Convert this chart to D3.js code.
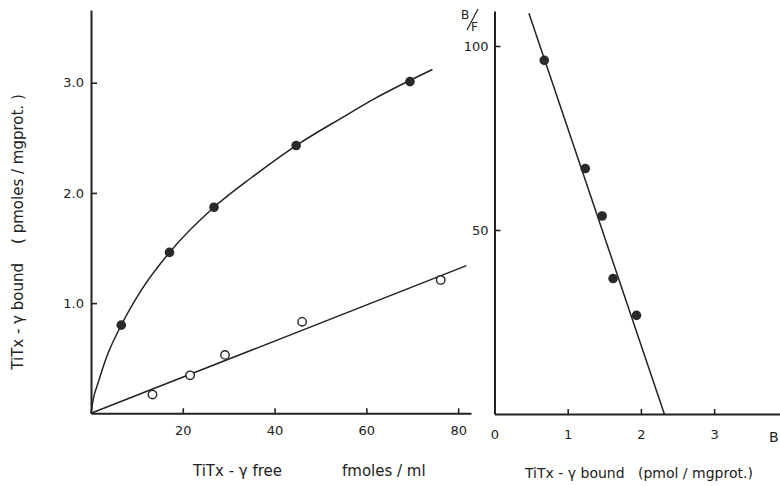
<!DOCTYPE html>
<html>
  <head>
    <meta charset="utf-8">
    <title>TiTx-γ binding</title>
    <script src="https://cdn.jsdelivr.net/npm/d3@7/dist/d3.min.js"></script>
    <style type="text/css">
      body { margin: 0; background: #fff; }
      svg { display: block; }
      text { font-family: "DejaVu Sans", sans-serif; fill: #222; }
      .axis path, .axis line { stroke: #222; }
    </style>
  </head>
  <body>
    <script>
    //Width and height
    var svgWidth = 780;
    var svgHeight = 486;

    //Left panel: saturation data (free vs bound)
    var totalFree  = [6.6, 17.1, 26.8, 44.7, 69.5];
    var totalBound = [0.80, 1.46, 1.87, 2.43, 3.01];
    var nonspecFree  = [13.4, 21.6, 29.2, 46.0, 76.2];
    var nonspecBound = [0.17, 0.345, 0.53, 0.83, 1.21];

    //hand drawn curve through the total binding points
    var curveFree  = [0, 0.5, 1.5, 3.3, 6.6, 11, 17.1, 26.8, 35, 44.7, 55, 62, 74.4];
    var curveBound = [0, 0.13, 0.27, 0.50, 0.80, 1.12, 1.46, 1.87, 2.14, 2.43, 2.69, 2.86, 3.12];
    //straight line through the open circles
    var lineFree  = [0, 81.8];
    var lineBound = [0, 1.34];

    var leftXTicks = [20, 40, 60, 80];
    var leftYTicks = [1, 2, 3];

    //Right panel: Scatchard plot
    var scatB  = [0.68, 1.24, 1.47, 1.62, 1.94];
    var scatBF = [96.1, 66.7, 53.8, 36.8, 26.8];
    var scatLineB  = [0.47, 2.32];
    var scatLineBF = [108.9, 0];

    var rightXTicks = [0, 1, 2, 3];
    var rightYTicks = [50, 100];

    //Scales
    var xL = d3.scaleLinear().domain([0, 82.8]).range([91, 471]);
    var yL = d3.scaleLinear().domain([0, 3.66]).range([413.3, 10]);
    var xR = d3.scaleLinear().domain([0, 3.9]).range([494.5, 780]);
    var yR = d3.scaleLinear().domain([0, 109.5]).range([414, 11]);

    var svg = d3.select("body")
      .append("svg")
        .attr("width", svgWidth)
        .attr("height", svgHeight);

    //---- left axes (ticks point inward)
    svg.append("g").attr("class", "axis")
      .attr("transform", "translate(0," + yL(0) + ")")
      .call(d3.axisBottom(xL).tickValues(leftXTicks).tickSizeInner(-5).tickSizeOuter(0).tickPadding(12));
    svg.append("g").attr("class", "axis")
      .attr("transform", "translate(" + xL(0) + ",0)")
      .call(d3.axisLeft(yL).tickValues(leftYTicks).tickFormat(d3.format(".1f")).tickSizeInner(-6).tickSizeOuter(0).tickPadding(7));

    //---- right axes
    var gxR = svg.append("g").attr("class", "axis")
      .attr("transform", "translate(0," + yR(0) + ")")
      .call(d3.axisBottom(xR).tickValues(rightXTicks).tickFormat(d3.format("d")).tickSizeInner(-5).tickSizeOuter(0).tickPadding(16));
    gxR.selectAll(".tick line").filter(function(d){ return d === 0; }).remove();
    svg.append("g").attr("class", "axis")
      .attr("transform", "translate(" + xR(0) + ",0)")
      .call(d3.axisLeft(yR).tickValues(rightYTicks).tickFormat(d3.format("d")).tickSizeInner(-6).tickSizeOuter(0).tickPadding(6));

    svg.selectAll(".axis path").attr("stroke-width", 2);
    svg.selectAll(".axis line").attr("stroke-width", 1.6);
    svg.selectAll(".axis text").attr("font-size", "13px").attr("fill", "#222")
      .attr("font-family", "DejaVu Sans, sans-serif");

    //---- left curve and line
    var curveLine = d3.line()
      .x(function(d){ return xL(d[0]); })
      .y(function(d){ return yL(d[1]); })
      .curve(d3.curveMonotoneX);

    svg.append("path")
      .datum(d3.zip(curveFree, curveBound))
      .attr("d", curveLine)
      .attr("fill", "none").attr("stroke", "#222").attr("stroke-width", 1.5);

    svg.append("path")
      .datum(d3.zip(lineFree, lineBound))
      .attr("d", d3.line().x(function(d){ return xL(d[0]); }).y(function(d){ return yL(d[1]); }))
      .attr("fill", "none").attr("stroke", "#222").attr("stroke-width", 1.5);

    svg.selectAll("circle.total")
      .data(d3.zip(totalFree, totalBound))
      .enter().append("circle")
      .attr("class", "total")
      .attr("cx", function(d){ return xL(d[0]); })
      .attr("cy", function(d){ return yL(d[1]); })
      .attr("r", 4.8)
      .attr("fill", "#2a2a2a");

    svg.selectAll("circle.nonspec")
      .data(d3.zip(nonspecFree, nonspecBound))
      .enter().append("circle")
      .attr("class", "nonspec")
      .attr("cx", function(d){ return xL(d[0]); })
      .attr("cy", function(d){ return yL(d[1]); })
      .attr("r", 4.2)
      .attr("fill", "#fff")
      .attr("stroke", "#222")
      .attr("stroke-width", 1.4);

    //---- right line and points
    svg.append("path")
      .datum(d3.zip(scatLineB, scatLineBF))
      .attr("d", d3.line().x(function(d){ return xR(d[0]); }).y(function(d){ return yR(d[1]); }))
      .attr("fill", "none").attr("stroke", "#222").attr("stroke-width", 1.5);

    svg.selectAll("circle.scat")
      .data(d3.zip(scatB, scatBF))
      .enter().append("circle")
      .attr("class", "scat")
      .attr("cx", function(d){ return xR(d[0]); })
      .attr("cy", function(d){ return yR(d[1]); })
      .attr("r", 4.8)
      .attr("fill", "#2a2a2a");

    //---- titles
    svg.append("text")
      .attr("x", 193).attr("y", 476)
      .attr("font-size", "15px")
      .text("TiTx - γ free");
    svg.append("text")
      .attr("x", 342).attr("y", 476)
      .attr("font-size", "15px")
      .text("fmoles / ml");

    svg.append("text")
      .attr("transform", "translate(23,232) rotate(-90)")
      .attr("text-anchor", "middle")
      .attr("font-size", "15px")
      .style("white-space", "pre")
      .text("TiTx - γ bound    ( pmoles / mgprot. )");

    svg.append("text")
      .attr("x", 525).attr("y", 478)
      .attr("font-size", "14px")
      .style("white-space", "pre")
      .text("TiTx - γ bound   (pmol / mgprot.)");

    //B/F label, slash drawn as a stroke
    svg.append("text").attr("x", 461).attr("y", 19).attr("font-size", "12px").text("B");
    svg.append("line")
      .attr("x1", 467).attr("y1", 30).attr("x2", 478).attr("y2", 9)
      .attr("stroke", "#222").attr("stroke-width", 1.2);
    svg.append("text").attr("x", 471).attr("y", 31).attr("font-size", "12px").text("F");

    //B at end of right x axis
    svg.append("text").attr("x", 769).attr("y", 442).attr("font-size", "14px").text("B");
    </script>
  </body>
</html>
